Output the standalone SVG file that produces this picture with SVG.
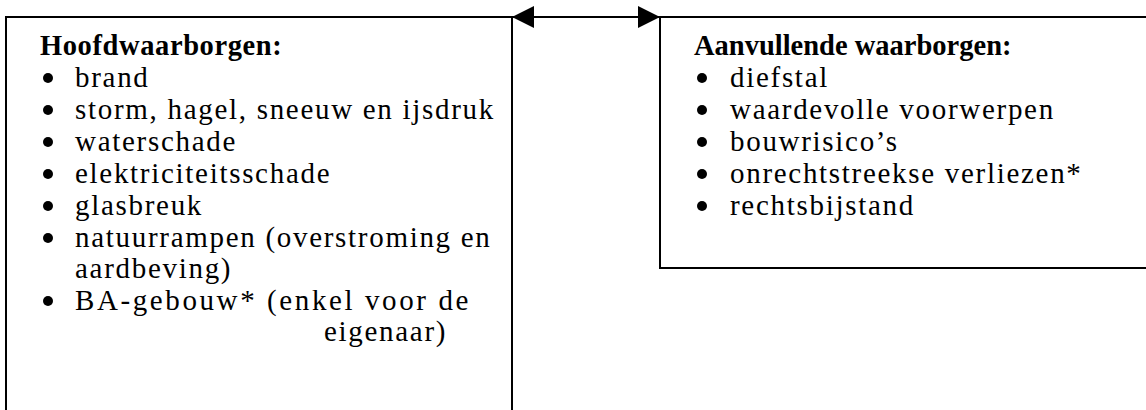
<svg xmlns="http://www.w3.org/2000/svg" width="1146" height="410" viewBox="0 0 1146 410">
<style>
.box{fill:none;stroke:#000;stroke-width:2}
.t{font-family:"Liberation Serif","Times New Roman",serif;font-size:29px;letter-spacing:1.7px;fill:#000}
.h{font-family:"Liberation Serif","Times New Roman",serif;font-size:28.5px;font-weight:bold;fill:#000}
.b{fill:#000}
.con{stroke:#000;stroke-width:2;fill:none}
</style>
<defs>
<marker id="ah" viewBox="0 0 22 22" refX="22" refY="11" markerWidth="22" markerHeight="22" markerUnits="userSpaceOnUse" orient="auto-start-reverse">
<path d="M0,0 L22,11 L0,22 Z" fill="#000"/>
</marker>
</defs>
<rect width="1146" height="410" fill="#fff"/>
<g id="hoofd">
<path class="box" d="M6,420 V17 H512 V420"/>
<text class="h" x="40" y="55" letter-spacing="0.6">Hoofdwaarborgen:</text>
<g class="b">
<circle cx="48" cy="78" r="5"/>
<circle cx="48" cy="110" r="5"/>
<circle cx="48" cy="142" r="5"/>
<circle cx="48" cy="174" r="5"/>
<circle cx="48" cy="206" r="5"/>
<circle cx="48" cy="238" r="5"/>
<circle cx="48" cy="301" r="5"/>
</g>
<g class="t">
<text x="75" y="87">brand</text>
<text x="75" y="119">storm, hagel, sneeuw en ijsdruk</text>
<text x="75" y="151">waterschade</text>
<text x="75" y="183">elektriciteitsschade</text>
<text x="75" y="215">glasbreuk</text>
<text x="75" y="247">natuurrampen (overstroming en</text>
<text x="75" y="278">aardbeving)</text>
<text x="75" y="310" letter-spacing="2.6">BA-gebouw* (enkel voor de</text>
<text x="324" y="341">eigenaar)</text>
</g>
</g>
<g id="aanvullend">
<path class="box" d="M1150,17 H660 V268 H1150"/>
<text class="h" x="694" y="55">Aanvullende waarborgen:</text>
<g class="b">
<circle cx="702" cy="78" r="5"/>
<circle cx="702" cy="110" r="5"/>
<circle cx="702" cy="142" r="5"/>
<circle cx="702" cy="174" r="5"/>
<circle cx="702" cy="206" r="5"/>
</g>
<g class="t">
<text x="730" y="87">diefstal</text>
<text x="730" y="119">waardevolle voorwerpen</text>
<text x="730" y="151">bouwrisico’s</text>
<text x="730" y="183">onrechtstreekse verliezen*</text>
<text x="730" y="215">rechtsbijstand</text>
</g>
</g>
<g id="connectors">
<line class="con" x1="512" y1="17" x2="660" y2="17" marker-start="url(#ah)" marker-end="url(#ah)"/>
</g>
</svg>
